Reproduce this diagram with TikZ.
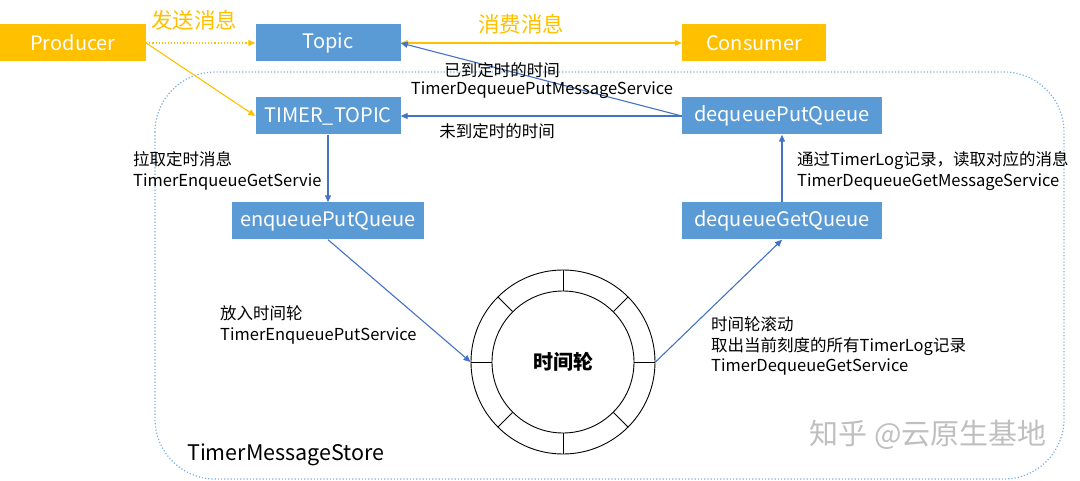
\documentclass[tikz,border=0pt]{standalone}
\usepackage{fontspec}
\setmainfont{Noto Sans CJK SC}
\usetikzlibrary{arrows.meta}
\definecolor{boxblue}{HTML}{5B9BD5}
\definecolor{lineblue}{HTML}{4472C4}
\definecolor{sunyellow}{HTML}{FFC000}
\tikzset{
  qbox/.style   = {shape=rectangle, fill=boxblue, text=white,
                   font=\fontsize{20}{22}\selectfont,
                   minimum height=37pt, inner sep=0pt},
  srcbox/.style = {qbox, fill=sunyellow},
  note/.style   = {align=left, inner sep=0pt,
                   font=\fontsize{16.5}{20.5}\selectfont},
  flow/.style   = {draw=lineblue, line width=1.1pt,
                   -{Triangle[length=7pt,width=6pt]}},
  send/.style   = {draw=sunyellow, line width=1.1pt,
                   -{Triangle[length=7pt,width=6pt]}}
}
\begin{document}
\begin{tikzpicture}[x=1pt,y=-1pt]
  \useasboundingbox (0,0) rectangle (1080,481);

  % store frame
  \draw [boxblue!80, dotted, line width=1.2pt, rounded corners=60pt]
    (155,72) rectangle (1064,479);
  \node [anchor=west, inner sep=0pt, font=\fontsize{21.5}{24}\selectfont]
    (store) at (187,455) {TimerMessageStore};

  % boxes
  \node [srcbox, minimum width=146pt] (producer) at (73,43) {Producer};
  \node [qbox, minimum width=145pt] (topic) at (328,43) {Topic};
  \node [srcbox, minimum width=144pt] (consumer) at (754,43) {Consumer};
  \node [qbox, minimum width=145pt] (timertopic) at (328,116) {TIMER\_TOPIC};
  \node [qbox, minimum width=192pt] (enqput) at (328,221) {enqueuePutQueue};
  \node [qbox, minimum width=200pt] (deqput) at (782,116) {dequeuePutQueue};
  \node [qbox, minimum width=200pt] (deqget) at (782,221) {dequeueGetQueue};

  % time wheel
  \node [circle, draw, line width=0.9pt, minimum size=184pt, inner sep=0pt]
    (wheel) at (563,362) {};
  \node [circle, draw, line width=0.9pt, minimum size=142pt, inner sep=0pt,
         font=\fontsize{20}{22}\selectfont\bfseries]
    (hub) at (563,362) {时间轮};
  \foreach \a in {0,45,...,315}
    \draw [line width=0.9pt] (hub.\a) -- (wheel.\a);

  % producer / consumer side
  \draw [send, dotted] (producer.east) -- (topic.west);
  \draw [send] (producer.east) -- (timertopic.west);
  \draw [send, {Triangle[length=7pt,width=6pt]}-{Triangle[length=7pt,width=6pt]}]
    (topic.east) -- (consumer.west);
  \node [text=sunyellow, font=\fontsize{21.5}{24}\selectfont] (sendlbl)
    at (194,20) {发送消息};
  \node [text=sunyellow, font=\fontsize{21.5}{24}\selectfont] (uselbl)
    at (521,24) {消费消息};

  % timer flow
  \draw [flow] (deqput.west) -- (topic.east);
  \draw [flow] (deqput.west) -- (timertopic.east);
  \draw [flow] (timertopic.south) -- (enqput.north);
  \draw [flow] (enqput.south) -- (wheel.west);
  \draw [flow] (wheel.east) -- (deqget.south);
  \draw [flow] (deqget.north) -- (deqput.south);

  % labels
  \node [note] (duelbl) at (502,70) {已到定时的时间};
  \node [note] (duesvc) at (542,90) {TimerDequeuePutMessageService};
  \node [note] (notdue) at (497,131) {未到定时的时间};
  \node [note, anchor=west] (pulllbl) at (133,171)
    {拉取定时消息\\TimerEnqueueGetServie};
  \node [note, anchor=west] (putlbl) at (220,325)
    {放入时间轮\\TimerEnqueuePutService};
  \node [note, anchor=west] (rolllbl) at (711,346)
    {时间轮滚动\\取出当前刻度的所有TimerLog记录\\TimerDequeueGetService};
  \node [note, anchor=west] (readlbl) at (797,171)
    {通过TimerLog记录，读取对应的消息\\TimerDequeueGetMessageService};

  % watermark
  \node [text=black!25, font=\fontsize{29}{31}\selectfont] (mark)
    at (928,435) {知乎 @云原生基地};
\end{tikzpicture}
\end{document}
